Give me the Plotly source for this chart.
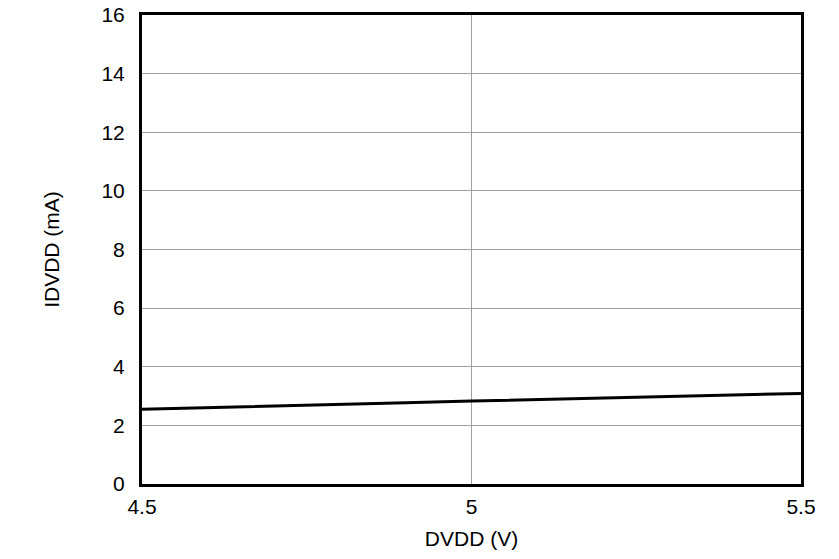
import plotly.graph_objects as go

dvdd = [4.5, 4.6, 4.7, 4.8, 4.9, 5.0, 5.1, 5.2, 5.3, 5.4, 5.5]
idvdd = [2.55, 2.60, 2.65, 2.71, 2.77, 2.83, 2.88, 2.94, 2.99, 3.04, 3.09]
x_ticks = [4.5, 5, 5.5]
x_labels = ["4.5", "5", "5.5"]
y_ticks = [0, 2, 4, 6, 8, 10, 12, 14, 16]

fig = go.Figure()
fig.add_trace(go.Scatter(x=dvdd, y=idvdd, mode="lines",
                         line=dict(color="black", width=3), showlegend=False))

font = dict(family="Liberation Sans", size=21, color="black")
fig.update_layout(
    width=839, height=559,
    margin=dict(l=142, r=38, t=15, b=75, autoexpand=False),
    paper_bgcolor="white", plot_bgcolor="white",
    font=font,
    xaxis=dict(range=[4.5, 5.5], tickvals=x_ticks, ticktext=x_labels,
               showgrid=True, gridcolor="#a0a0a0", gridwidth=1,
               showline=True, linecolor="black", linewidth=3, mirror=True,
               ticks="outside", ticklen=2, tickcolor="rgba(0,0,0,0)",
               zeroline=False, tickfont=font, automargin=False,
               title=dict(text="DVDD (V)", font=font, standoff=15)),
    yaxis=dict(range=[0, 16], tickvals=y_ticks,
               showgrid=True, gridcolor="#a0a0a0", gridwidth=1,
               showline=True, linecolor="black", linewidth=3, mirror=True,
               ticks="outside", ticklen=10, tickcolor="rgba(0,0,0,0)",
               zeroline=False, tickfont=font, automargin=False,
               title=dict(text="IDVDD (mA)", font=font, standoff=37)),
)
fig.write_html("out.html", config={"displayModeBar": False},
               post_script="document.body.style.margin='0';document.body.style.overflow='hidden';")
